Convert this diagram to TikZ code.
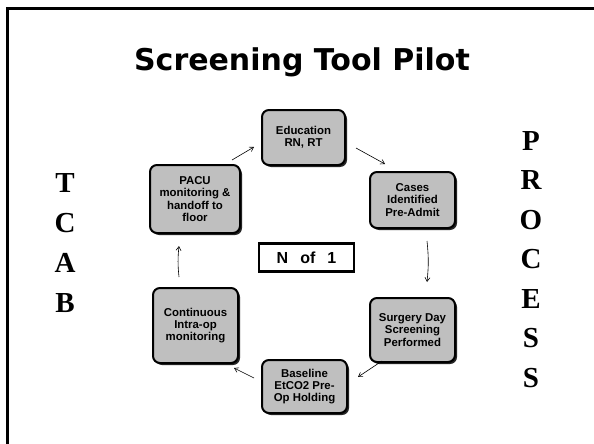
\documentclass[tikz,border=0pt]{standalone}
\usepackage{fontspec}
\setmainfont{Liberation Serif}
\newfontfamily\boxfont{Liberation Sans}
\newfontfamily\titlefont{DejaVu Sans}
\usetikzlibrary{arrows.meta,shadows}
\begin{document}
\begin{tikzpicture}[x=1pt,y=-1pt,
  stepbox/.style={draw=black, line width=2pt, rounded corners=7pt, fill=gray!50,
    drop shadow={shadow xshift=2pt, shadow yshift=-2pt, fill=black!85, opacity=1},
    align=center, inner sep=1pt, font=\boxfont\bfseries\fontsize{11.4}{12.3}\selectfont},
  flow/.style={-{Straight Barb[length=4pt,width=5pt]}, line width=0.6pt},
  letter/.style={font=\bfseries\fontsize{29}{30}\selectfont, anchor=base, inner sep=0pt}]
\useasboundingbox (0,0) rectangle (594,444);
\fill[white] (0,0) rectangle (594,444);
% slide border
\draw[line width=2.6pt] (7.5,444) -- (7.5,8.5) -- (594,8.5);
% title
\node (title) at (302,62) {\titlefont\bfseries\fontsize{30}{32}\selectfont Screening Tool Pilot};
% boxes
\node[stepbox, minimum width=83pt, minimum height=55pt] (edu) at (303.5,137.5) {Education\\RN, RT};
\node[stepbox, minimum width=85pt, minimum height=56pt] (cases) at (412.5,200) {Cases\\Identified\\Pre-Admit};
\node[stepbox, minimum width=85pt, minimum height=64pt] (surg) at (412.5,330) {Surgery Day\\Screening\\Performed};
\node[stepbox, minimum width=85pt, minimum height=53pt] (base) at (304.5,386.5) {Baseline\\EtCO2 Pre-\\Op Holding};
\node[stepbox, minimum width=85pt, minimum height=75pt] (cont) at (195.5,325.5) {Continuous\\Intra-op\\monitoring};
\node[stepbox, minimum width=90pt, minimum height=68pt] (pacu) at (195,199) {PACU\\monitoring \&\\handoff to\\floor};
% N of 1
\node[draw=black, line width=2.6pt, minimum width=95pt, minimum height=28pt, inner sep=0pt,
  font=\boxfont\bfseries\fontsize{16}{18}\selectfont] (nof) at (306.5,257.5) {N\hspace{12pt}of\hspace{12pt}1};
% arrows
\draw[flow] ([shift={(-9,-4)}]pacu.north east) -- ([shift={(-7,9.5)}]edu.west);
\draw[flow] ([shift={(10,10.5)}]edu.east) -- ([shift={(-27.5,-7)}]cases.north);
\draw[flow] ([shift={(14.5,12)}]cases.south) to[bend left=6] ([shift={(14.5,-15)}]surg.north);
\draw[flow] ([shift={(13,-2)}]surg.south west) -- ([shift={(10,-9.5)}]base.east);
\draw[flow] ([shift={(-7,-8.5)}]base.west) -- ([shift={(-5,4)}]cont.south east);
\draw[flow] ([shift={(-16.5,-10)}]cont.north) to[bend left=6] ([shift={(-16,12)}]pacu.south);
% side letters
\foreach \l [count=\i] in {T,C,A,B}
  \node[letter] (tcab\i) at (65,{192+40*(\i-1)}) {\l};
\foreach \l [count=\i] in {P,R,O,C,E,S,S}
  \node[letter] (proc\i) at (531,{150+39.5*(\i-1)}) {\l};
\end{tikzpicture}
\end{document}
